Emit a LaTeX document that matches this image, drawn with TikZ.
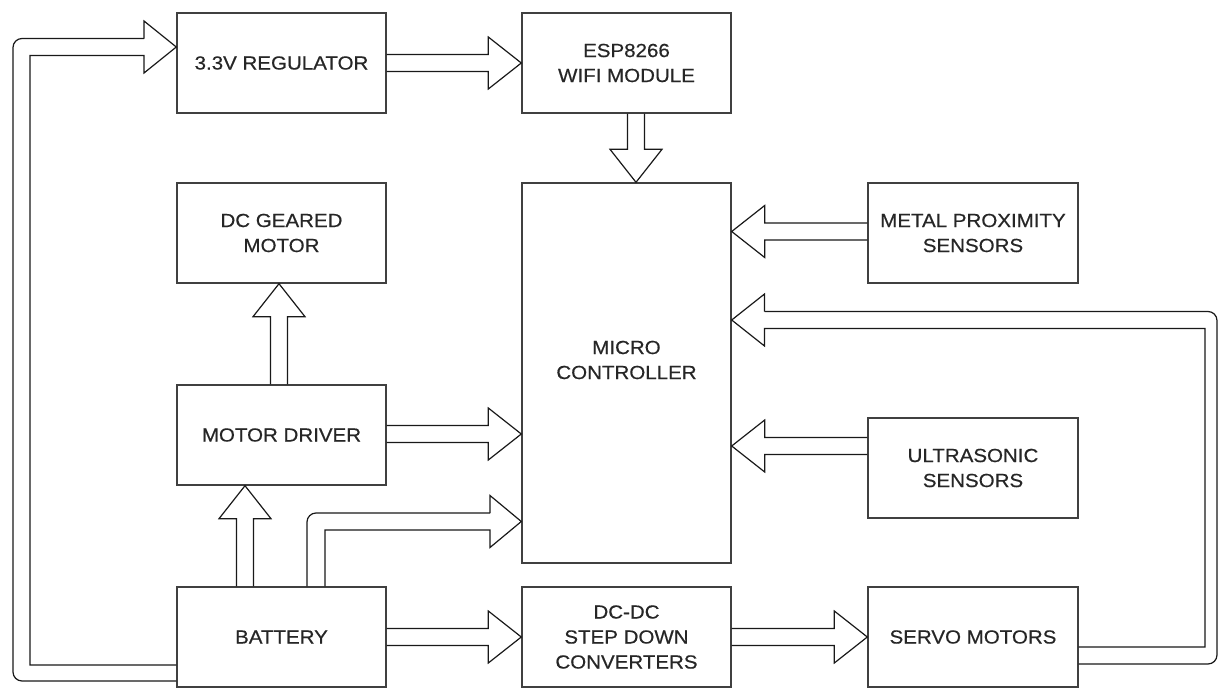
\documentclass[tikz,border=0pt]{standalone}
\usepackage{fontspec}
\setmainfont{Liberation Sans}[FakeStretch=1.08, FakeBold=0.5]
\usetikzlibrary{calc}
\newcommand\boxfont{\fontsize{19}{25}\selectfont}
\tikzset{
  box/.style={draw=black!75, line width=1.4pt, minimum width=209pt, minimum height=100pt,
    inner sep=0pt, align=center, font=\boxfont, text=black!85},
  blk/.style={draw=black!90, line width=1.2pt, line join=miter},
}
\newcommand\BArrH[3]{\draw[blk] let \p1=(#1), \p2=(#2), \n1={sign(\x2-\x1)} in
  (\x1,{\y1+(#3)+8.5pt}) -- ({\x2-(\n1)*33pt},{\y1+(#3)+8.5pt}) -- ({\x2-(\n1)*33pt},{\y1+(#3)+26pt})
  -- (\x2,{\y1+(#3)}) -- ({\x2-(\n1)*33pt},{\y1+(#3)-26pt}) -- ({\x2-(\n1)*33pt},{\y1+(#3)-8.5pt})
  -- (\x1,{\y1+(#3)-8.5pt});}
\newcommand\BArrV[3]{\draw[blk] let \p1=(#1), \p2=(#2), \n1={sign(\y2-\y1)} in
  ({\x1+(#3)+8.5pt},\y1) -- ({\x1+(#3)+8.5pt},{\y2-(\n1)*33pt}) -- ({\x1+(#3)+26pt},{\y2-(\n1)*33pt})
  -- ({\x1+(#3)},\y2) -- ({\x1+(#3)-26pt},{\y2-(\n1)*33pt}) -- ({\x1+(#3)-8.5pt},{\y2-(\n1)*33pt})
  -- ({\x1+(#3)-8.5pt},\y1);}
\begin{document}
\begin{tikzpicture}[x=1pt,y=-1pt]
\useasboundingbox (0,0) rectangle (1219,688);
% boxes
\node[box] (reg) at (281.5,63) {3.3V REGULATOR};
\node[box] (esp) at (626.5,63) {ESP8266\\WIFI MODULE};
\node[box] (dcm) at (281.5,233) {DC GEARED\\MOTOR};
\node[box, minimum height=380pt,
  label={[font=\boxfont, text=black!85, align=center, yshift=13pt]center:MICRO\\CONTROLLER}] (mc) at (626.5,373) {};
\node[box, minimum width=210pt] (mp) at (973,233) {METAL PROXIMITY\\SENSORS};
\node[box] (md) at (281.5,435) {MOTOR DRIVER};
\node[box, minimum width=210pt] (us) at (973,468) {ULTRASONIC\\SENSORS};
\node[box] (bat) at (281.5,637) {BATTERY};
\node[box] (dc) at (626.5,637) {DC-DC\\STEP DOWN\\CONVERTERS};
\node[box, minimum width=210pt] (sv) at (973,637) {SERVO MOTORS};
% straight block arrows
\BArrH{reg.east}{esp.west}{0pt}
\BArrV{esp.south}{mc.north}{9.5pt}
\BArrH{mp.west}{mc.east}{1.5pt}
\BArrV{md.north}{dcm.south}{-2.5pt}
\BArrV{bat.north}{md.south}{-36.5pt}
\BArrH{md.east}{mc.west}{1pt}
\BArrH{us.west}{mc.east}{22pt}
\BArrH{bat.east}{dc.west}{0pt}
\BArrH{dc.east}{sv.west}{0pt}
% battery -> regulator (left loop)
\draw[blk, rounded corners=9pt] (bat.west |- 0,681) -- (13,681) -- (13,38.5) -- (144,38.5);
\draw[blk] (144,38.5) -- (144,21) -- (reg.west |- 0,47) -- (144,73) -- (144,55.5)
  -- (30,55.5) -- (30,665) -- (bat.west |- 0,665);
% battery -> micro controller (bent)
\draw[blk, rounded corners=9pt] (bat.north -| 307,0) -- (307,513) -- (490,513);
\draw[blk] (490,513) -- (490,495.5) -- (mc.west |- 0,521.5) -- (490,547.5) -- (490,530)
  -- (325,530) -- (bat.north -| 325,0);
% servo -> micro controller (right loop)
\draw[blk, rounded corners=9pt] (sv.east |- 0,664) -- (1217,664) -- (1217,311.5) -- (764.5,311.5);
\draw[blk] (764.5,311.5) -- (764.5,294) -- (mc.east |- 0,320) -- (764.5,346) -- (764.5,328.5)
  -- (1205,328.5) -- (1205,647) -- (sv.east |- 0,647);
\end{tikzpicture}
\end{document}
